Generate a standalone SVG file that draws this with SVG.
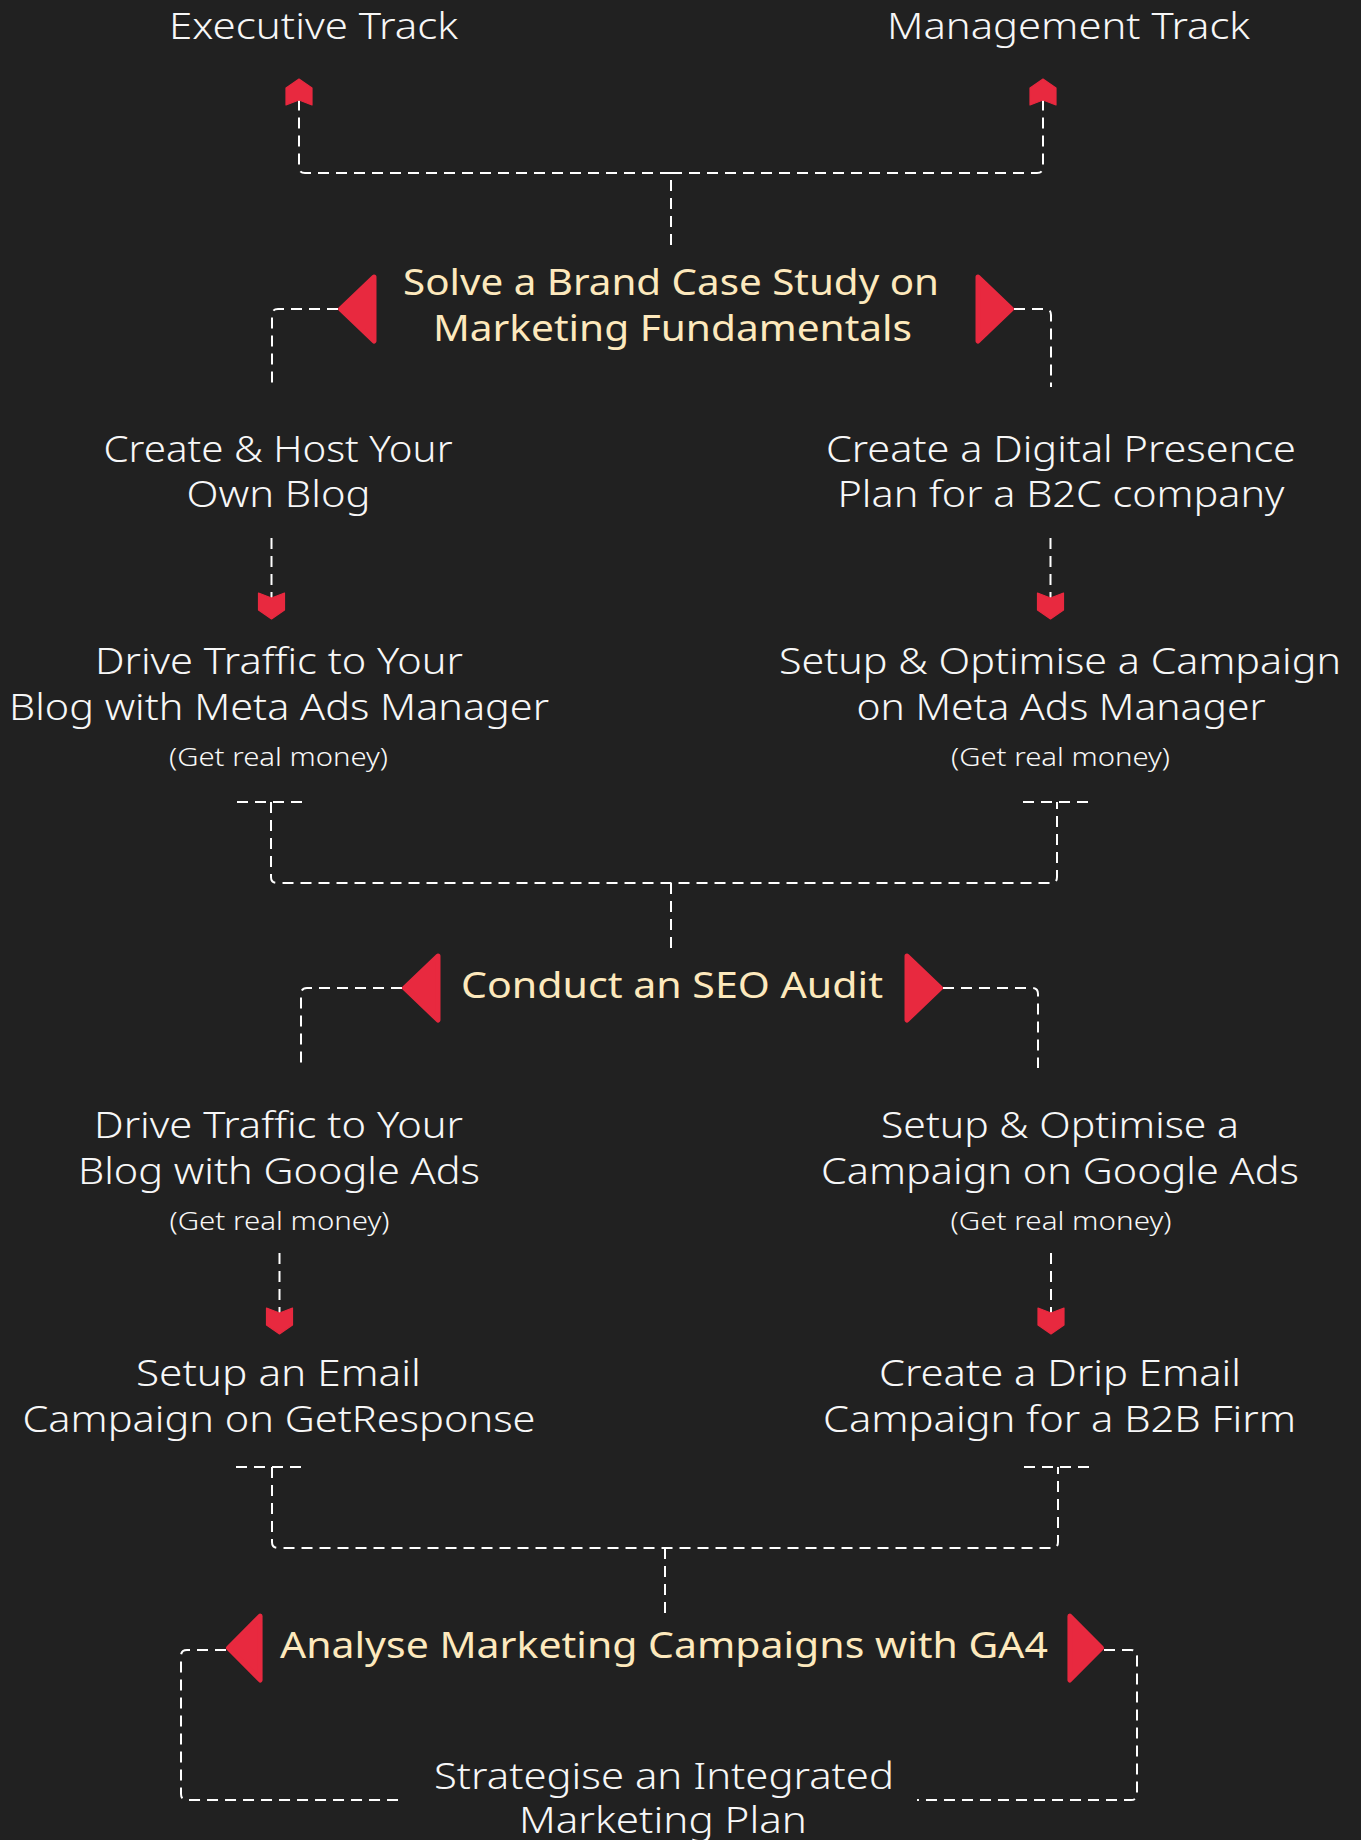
<svg xmlns="http://www.w3.org/2000/svg" xmlns:xlink="http://www.w3.org/1999/xlink" width="1361" height="1840" viewBox="0 0 1361 1840">
  <style>
    .t { font-family: "Noto Sans", "Open Sans", "DejaVu Sans", sans-serif; font-size: 37px; fill: #f7f7f7; text-anchor: middle; font-weight: 300; }
    .hl { fill: #fde9bd; font-weight: 400; }
    .sm { font-size: 26px; }
    .link { fill: none; stroke: #ffffff; stroke-width: 2; stroke-dasharray: 11 7; }
    .tri { fill: #e8293f; stroke: #e8293f; stroke-width: 5; stroke-linejoin: round; }
  </style>
  <defs>
    <!-- notched chevron arrowhead, tip along +x -->
    <marker id="chev" viewBox="-7 -15 30 30" refX="0" refY="0" markerWidth="30" markerHeight="30" markerUnits="userSpaceOnUse" orient="auto">
      <path d="M-5,-13 L12,-13 L21,0 L12,13 L-5,13 L0,0 Z" fill="#e8293f" stroke="#e8293f" stroke-width="1.2" stroke-linejoin="round"/>
    </marker>
    <!-- rounded triangle, tip at origin pointing right -->
    <path id="tri" d="M-36,-32 L-2.5,0 L-36,32 Z"/>
  </defs>

  <rect width="1361" height="1840" fill="#212121"/>

  <g id="connectors">
    <path class="link" d="M671,245 V173 H305 Q299,173 299,167 V100" marker-end="url(#chev)"/>
    <path class="link" d="M671,173 H1037 Q1043,173 1043,167 V100" marker-end="url(#chev)"/>

    <path class="link" d="M338,309 H278 Q272,309 272,315 V387"/>
    <path class="link" d="M1014,309 H1045 Q1051,309 1051,315 V387"/>

    <path class="link" d="M271.5,538 V598" marker-end="url(#chev)"/>
    <path class="link" d="M1050.5,538 V598" marker-end="url(#chev)"/>

    <path class="link" d="M237,802 H307"/>
    <path class="link" d="M1023,802 H1093"/>
    <path class="link" d="M271,802 V877 Q271,883 277,883 H1051 Q1057,883 1057,877 V802"/>
    <path class="link" d="M671,883 V952"/>

    <path class="link" d="M402,988 H307 Q301,988 301,994 V1068"/>
    <path class="link" d="M943,988 H1032 Q1038,988 1038,994 V1068"/>

    <path class="link" d="M279.5,1253 V1313" marker-end="url(#chev)"/>
    <path class="link" d="M1051,1253 V1313" marker-end="url(#chev)"/>

    <path class="link" d="M236,1467 H306"/>
    <path class="link" d="M1024,1467 H1094"/>
    <path class="link" d="M272,1467 V1542 Q272,1548 278,1548 H1052 Q1058,1548 1058,1542 V1467"/>
    <path class="link" d="M665,1548 V1615"/>

    <path class="link" d="M226,1650 H187 Q181,1650 181,1656 V1794 Q181,1800 187,1800 H401"/>
    <path class="link" d="M1104,1650 H1131 Q1137,1650 1137,1656 V1794 Q1137,1800 1131,1800 H917"/>
  </g>

  <g id="executive-track">
    <text class="t" x="313.5" y="39" textLength="289" lengthAdjust="spacingAndGlyphs">Executive Track</text>
  </g>
  <g id="management-track">
    <text class="t" x="1068.5" y="39" textLength="363" lengthAdjust="spacingAndGlyphs">Management Track</text>
  </g>

  <g id="brand-case-study">
    <use href="#tri" class="tri" transform="translate(338,309) scale(-1,1)"/>
    <use href="#tri" class="tri" transform="translate(1014,309)"/>
    <text class="t hl" x="671" y="295" textLength="536" lengthAdjust="spacingAndGlyphs">Solve a Brand Case Study on</text>
    <text class="t hl" x="672.5" y="341" textLength="479" lengthAdjust="spacingAndGlyphs">Marketing Fundamentals</text>
  </g>

  <g id="host-blog">
    <text class="t" x="278" y="462" textLength="349" lengthAdjust="spacingAndGlyphs">Create &amp; Host Your</text>
    <text class="t" x="278.5" y="507" textLength="184" lengthAdjust="spacingAndGlyphs">Own Blog</text>
  </g>
  <g id="digital-presence">
    <text class="t" x="1061" y="462" textLength="470" lengthAdjust="spacingAndGlyphs">Create a Digital Presence</text>
    <text class="t" x="1061" y="507" textLength="447" lengthAdjust="spacingAndGlyphs">Plan for a B2C company</text>
  </g>

  <g id="blog-meta-ads">
    <text class="t" x="279" y="674" textLength="368" lengthAdjust="spacingAndGlyphs">Drive Traffic to Your</text>
    <text class="t" x="279" y="720" textLength="540" lengthAdjust="spacingAndGlyphs">Blog with Meta Ads Manager</text>
    <text class="t sm" x="278.5" y="766" textLength="219" lengthAdjust="spacingAndGlyphs">(Get real money)</text>
  </g>
  <g id="campaign-meta-ads">
    <text class="t" x="1060" y="674" textLength="562" lengthAdjust="spacingAndGlyphs">Setup &amp; Optimise a Campaign</text>
    <text class="t" x="1061" y="720" textLength="409" lengthAdjust="spacingAndGlyphs">on Meta Ads Manager</text>
    <text class="t sm" x="1060.5" y="766" textLength="219" lengthAdjust="spacingAndGlyphs">(Get real money)</text>
  </g>

  <g id="seo-audit">
    <use href="#tri" class="tri" transform="translate(402,988) scale(-1,1)"/>
    <use href="#tri" class="tri" transform="translate(943,988)"/>
    <text class="t hl" x="672" y="998" textLength="422" lengthAdjust="spacingAndGlyphs">Conduct an SEO Audit</text>
  </g>

  <g id="blog-google-ads">
    <text class="t" x="278.5" y="1138" textLength="369" lengthAdjust="spacingAndGlyphs">Drive Traffic to Your</text>
    <text class="t" x="279" y="1184" textLength="402" lengthAdjust="spacingAndGlyphs">Blog with Google Ads</text>
    <text class="t sm" x="279.5" y="1230" textLength="220" lengthAdjust="spacingAndGlyphs">(Get real money)</text>
  </g>
  <g id="campaign-google-ads">
    <text class="t" x="1060" y="1138" textLength="358" lengthAdjust="spacingAndGlyphs">Setup &amp; Optimise a</text>
    <text class="t" x="1060" y="1184" textLength="478" lengthAdjust="spacingAndGlyphs">Campaign on Google Ads</text>
    <text class="t sm" x="1061" y="1230" textLength="221" lengthAdjust="spacingAndGlyphs">(Get real money)</text>
  </g>

  <g id="email-getresponse">
    <text class="t" x="278.5" y="1386" textLength="285" lengthAdjust="spacingAndGlyphs">Setup an Email</text>
    <text class="t" x="279" y="1432" textLength="513" lengthAdjust="spacingAndGlyphs">Campaign on GetResponse</text>
  </g>
  <g id="drip-email">
    <text class="t" x="1060" y="1386" textLength="362" lengthAdjust="spacingAndGlyphs">Create a Drip Email</text>
    <text class="t" x="1059.5" y="1432" textLength="473" lengthAdjust="spacingAndGlyphs">Campaign for a B2B Firm</text>
  </g>

  <g id="analyse-ga4">
    <use href="#tri" class="tri" transform="translate(226,1648) scale(-0.95,1)"/>
    <use href="#tri" class="tri" transform="translate(1104,1648) scale(0.95,1)"/>
    <text class="t hl" x="664" y="1658" textLength="768" lengthAdjust="spacingAndGlyphs">Analyse Marketing Campaigns with GA4</text>
  </g>

  <g id="integrated-plan">
    <text class="t" x="664" y="1789" textLength="460" lengthAdjust="spacingAndGlyphs">Strategise an Integrated</text>
    <text class="t" x="663" y="1833" textLength="288" lengthAdjust="spacingAndGlyphs">Marketing Plan</text>
  </g>
</svg>
